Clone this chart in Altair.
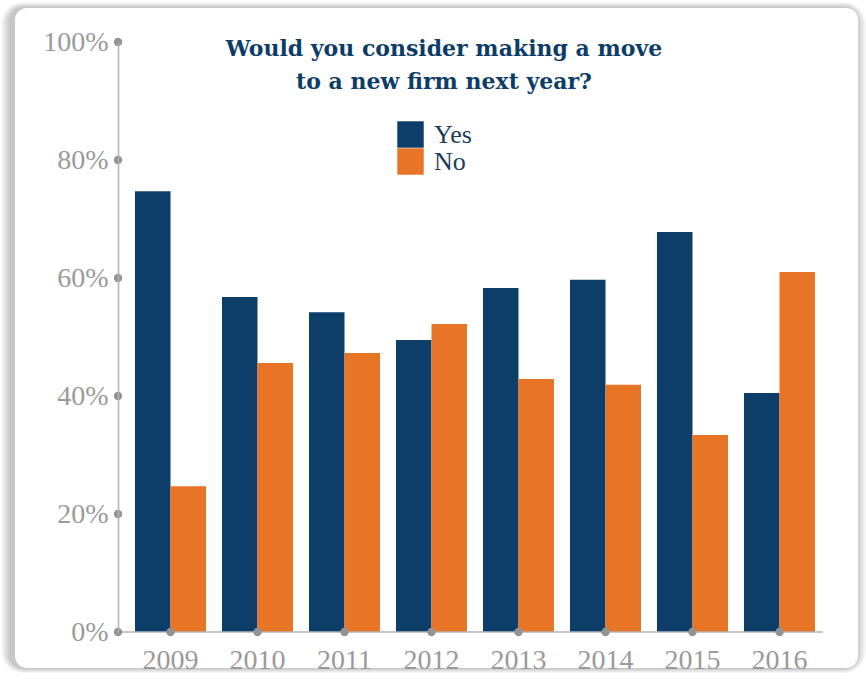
import altair as alt
import pandas as pd

# ---- data ----
years = ["2009", "2010", "2011", "2012", "2013", "2014", "2015", "2016"]
yes_pct = [74.7, 56.8, 54.2, 49.5, 58.3, 59.7, 67.8, 40.5]
no_pct = [24.7, 45.6, 47.3, 52.2, 42.9, 41.9, 33.4, 61.0]
answers = ["Yes", "No"]
colors = ["#0c3e69", "#e87426"]
y_ticks = [0, 20, 40, 60, 80, 100]
title_lines = ["Would you consider making a move", "to a new firm next year?"]

FONT = "Liberation Serif"
W, H = 696, 590
NAVY = "#0d3d66"
GREY = "#9a9a9a"

rows = []
for y, a, b in zip(years, yes_pct, no_pct):
    rows.append({"year": y, "answer": "Yes", "pct": a})
    rows.append({"year": y, "answer": "No", "pct": b})
df = pd.DataFrame(rows)
one = pd.DataFrame({"k": [0]})

# ---- card with soft shadow ----
shadow_layers = []
for i in range(10, 0, -1):
    shadow_layers.append(
        alt.Chart(one).mark_rect(color="#000000", opacity=0.022, cornerRadius=12 + i).encode(
            x=alt.value(-112 - 4 - i), x2=alt.value(731 - 2 + i),
            y=alt.value(-34 - i * 0.6), y2=alt.value(626 + i * 0.5),
        )
    )
card = alt.Chart(one).mark_rect(color="white", cornerRadius=12).encode(
    x=alt.value(-112), x2=alt.value(731), y=alt.value(-34), y2=alt.value(626)
)

yscale = alt.Scale(domain=[0, 100], nice=False)

bars = alt.Chart(df).mark_bar().encode(
    x=alt.X("year:N", sort=years, title=None,
            scale=alt.Scale(paddingInner=0, paddingOuter=0),
            axis=alt.Axis(labelAngle=0, domain=False, ticks=False, labelPadding=14,
                          labelFontSize=28, labelColor=GREY, labelFont=FONT, zindex=2)),
    xOffset=alt.XOffset("answer:N", sort=answers,
                        scale=alt.Scale(paddingInner=0, paddingOuter=0.225)),
    y=alt.Y("pct:Q", scale=yscale, title=None,
            axis=alt.Axis(values=y_ticks, labelExpr="datum.value + '%'", offset=9,
                          grid=False, ticks=False, domainColor="#b3b3b3", domainWidth=1.5,
                          labelPadding=10, labelFontSize=28, labelColor=GREY, labelFont=FONT,
                          zindex=2)),
    color=alt.Color("answer:N", sort=answers,
                    scale=alt.Scale(domain=answers, range=colors),
                    legend=alt.Legend(title=None, orient="none", legendX=270, legendY=79,
                                      symbolType="square", symbolSize=700, symbolStrokeWidth=0,
                                      symbolOpacity=1, rowPadding=0, padding=0, labelOffset=10,
                                      labelFontSize=26, labelFont=FONT, labelColor="#1c3c5e",
                                      zindex=2)),
)

x_line = alt.Chart(one).mark_rule(color="#b3b3b3", strokeWidth=1.5).encode(
    x=alt.value(-9), x2=alt.value(W), y=alt.value(H)
)

ydots = alt.Chart(pd.DataFrame({"v": y_ticks})).mark_point(
    filled=True, color="#939393", size=70, opacity=1
).encode(x=alt.value(-9), y=alt.Y("v:Q", scale=yscale))

xdots = alt.Chart(pd.DataFrame({"year": years})).mark_point(
    filled=True, color="#939393", size=70, opacity=1
).encode(x=alt.X("year:N", sort=years), y=alt.value(H))

chart = alt.layer(*shadow_layers, card, bars, x_line, ydots, xdots).properties(
    width=W, height=H,
    padding={"left": 127, "top": 42, "right": 43, "bottom": 49},
    autosize=alt.AutoSizeParams(type="none"),
    background="white",
    title=alt.TitleParams(text=title_lines, anchor="middle", dx=-31, offset=-92,
                          fontSize=22, font="DejaVu Serif", fontWeight="bold", color=NAVY,
                          lineHeight=33, zindex=2),
).configure_view(stroke=None)

chart.save("out.html", embed_options={"renderer": "svg", "actions": False})
